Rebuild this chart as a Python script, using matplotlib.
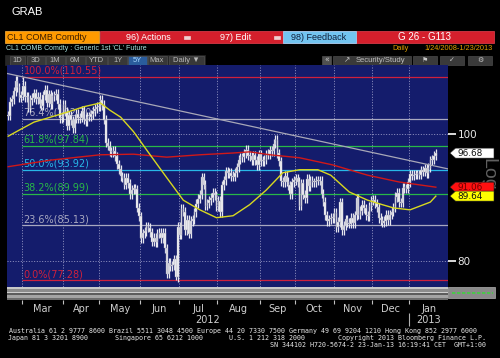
import numpy as np
import pandas as pd
import matplotlib
matplotlib.use("Agg")
import matplotlib.pyplot as plt
from matplotlib.patches import Rectangle, Polygon
from matplotlib.ticker import FixedLocator, NullLocator, FixedFormatter

# sessions with no trading (US holidays + hurricane Sandy)
holidays = ["2012-02-20", "2012-04-06", "2012-05-28", "2012-07-04", "2012-09-03",
            "2012-10-29", "2012-10-30", "2012-11-22", "2012-12-25", "2013-01-01",
            "2013-01-21"]

# daily closes, CL1 COMB Comdty
closes_feb = [103.24, 105.84, 106.28, 107.83, 109.77, 108.56, 106.55, 107.07]
closes_mar = [108.84, 106.70, 106.72, 104.70, 106.16, 106.58, 107.40, 106.34, 106.71, 105.43,
              105.11, 107.06, 108.09, 105.61, 107.27, 105.35, 106.87, 107.03, 107.33, 105.41,
              102.78, 103.02]
closes_apr = [105.23, 104.01, 101.47, 103.31, 102.46, 101.02, 102.70, 103.64, 102.83, 102.93,
              104.20, 102.67, 102.27, 103.05, 103.11, 103.55, 104.12, 104.55, 104.93, 104.87]
closes_may = [106.16, 105.22, 102.54, 98.49, 97.94, 97.01, 96.81, 97.08, 96.13, 94.78,
              93.98, 92.81, 92.56, 91.48, 92.57, 91.66, 89.90, 90.66, 90.86, 90.76,
              87.82, 86.53]
closes_jun = [83.23, 83.98, 84.29, 85.02, 84.82, 84.10, 82.70, 83.32, 82.62, 83.91,
              84.03, 83.27, 84.03, 81.80, 78.20, 79.76, 79.21, 79.36, 80.21, 77.69, 84.96]
closes_jul = [83.75, 87.66, 87.22, 84.45, 85.99, 83.91, 85.81, 86.08, 87.10, 88.43,
              89.22, 89.87, 92.66, 91.44, 88.14, 88.50, 88.97, 89.39, 90.13, 89.78, 88.06]
closes_aug = [88.91, 87.13, 91.40, 92.20, 93.67, 93.35, 93.36, 92.87, 92.73, 93.43,
              94.33, 95.60, 96.01, 95.97, 96.68, 97.26, 96.27, 96.15, 95.47, 96.33,
              95.49, 94.62, 96.47]
closes_sep = [95.30, 95.36, 95.53, 96.42, 96.54, 97.17, 97.01, 98.31, 99.00, 96.62,
              95.29, 91.98, 91.87, 92.89, 91.93, 91.37, 89.98, 91.85, 92.19]
closes_oct = [92.48, 91.89, 88.14, 91.71, 89.88, 89.33, 92.39, 91.25, 92.07, 91.86,
              91.85, 92.09, 92.12, 92.10, 90.05, 88.73, 86.67, 85.73, 86.05, 86.28, 86.24]
closes_nov = [87.09, 84.86, 85.65, 88.71, 84.44, 85.09, 86.07, 85.57, 85.38, 86.32,
              85.45, 86.67, 89.28, 86.75, 87.38, 88.28, 87.74, 86.68, 86.49, 88.07, 88.91]
closes_dec = [89.09, 88.49, 87.88, 86.26, 85.93, 85.56, 85.80, 86.77, 85.89, 86.73,
              87.20, 87.93, 89.51, 90.13, 88.66, 88.61, 90.98, 90.87, 90.80, 91.82]
closes_jan = [93.12, 92.92, 93.09, 93.19, 93.15, 93.10, 93.82, 93.56, 94.14, 93.28,
              94.24, 95.49, 95.56, 96.24, 96.68]

# intraday extremes used by the fibonacci tool
swing_high = ("2012-03-01", 110.55)
swing_low = ("2012-06-28", 77.28)
second_high = ("2012-09-14", 100.42)
fib_ratios = [1.0, 0.764, 0.618, 0.5, 0.382, 0.236, 0.0]

# moving averages
ma_short_dates = ["2012-02-17", "2012-02-27", "2012-03-09", "2012-03-22", "2012-04-04",
                  "2012-04-18", "2012-05-01", "2012-05-08", "2012-05-16", "2012-05-25",
                  "2012-06-08", "2012-06-21", "2012-07-05", "2012-07-18", "2012-07-31",
                  "2012-08-13", "2012-08-24", "2012-09-07", "2012-09-20", "2012-10-03",
                  "2012-10-17", "2012-10-26", "2012-11-13", "2012-11-28", "2012-12-10",
                  "2012-12-18", "2013-01-02", "2013-01-17", "2013-01-23"]
ma_short = [99.6, 100.5, 102.1, 103.0, 103.9, 104.9, 105.6, 104.3, 103.0, 100.4,
            96.4, 92.6, 89.0, 87.5, 86.3, 86.6, 88.3, 90.6, 93.4, 93.9,
            93.9, 93.0, 90.3, 89.0, 88.3, 87.8, 87.5, 88.7, 89.64]
ma_long_dates = ["2012-02-17", "2012-03-22", "2012-05-01", "2012-05-25", "2012-06-21",
                 "2012-07-18", "2012-08-13", "2012-08-24", "2012-09-11", "2012-10-03",
                 "2012-10-31", "2012-11-28", "2012-12-21", "2013-01-23"]
ma_long = [94.4, 95.5, 96.4, 96.5, 96.0, 96.4, 96.7, 96.9, 96.4, 95.9,
           94.7, 93.0, 91.9, 91.06]

month_names = ["Mar", "Apr", "May", "Jun", "Jul", "Aug", "Sep", "Oct", "Nov", "Dec", "Jan"]
right_ticks = [80, 100]

# ---- dates -> trading day index
closes = np.array(closes_feb + closes_mar + closes_apr + closes_may + closes_jun + closes_jul
                  + closes_aug + closes_sep + closes_oct + closes_nov + closes_dec + closes_jan)
days = pd.bdate_range("2012-02-17", "2013-01-23")
days = days[~days.isin(pd.to_datetime(holidays))]
pos = {d.strftime("%Y-%m-%d"): i for i, d in enumerate(days)}
x = np.arange(len(days))

BG = "#000000"
PLOT_BG = "#141c6c"

fig = plt.figure(figsize=(5, 3.58), dpi=100, facecolor=BG)
ov = fig.add_axes([0, 0, 1, 1])
ov.set_xlim(0, 500)
ov.set_ylim(358, 0)
ov.axis("off")

ax = fig.add_axes([7 / 500, 58 / 358, 441 / 500, 235 / 358])
ax.set_facecolor(PLOT_BG)
ax.set_yscale("log")
ax.set_ylim(74.67, 112.89)
ax.set_xlim(-0.64, 238.6)
for s in ax.spines.values():
    s.set_visible(False)

# month boundaries
month_first = [i for i in range(1, len(days)) if days[i].month != days[i - 1].month]
bounds = [i - 0.5 for i in month_first]
mids = [(bounds[k] + bounds[k + 1]) / 2 for k in range(len(bounds) - 1)]
mids.append((bounds[-1] + ax.get_xlim()[1]) / 2)

ax.xaxis.set_major_locator(FixedLocator(bounds))
ax.xaxis.set_major_formatter(FixedFormatter([""] * len(bounds)))
ax.xaxis.set_minor_locator(FixedLocator(mids))
ax.xaxis.set_minor_formatter(FixedFormatter(month_names))
ax.tick_params(axis="x", which="major", length=3, width=0.8, color="#c0c0c0", direction="out")
ax.tick_params(axis="x", which="minor", length=0, labelsize=7, labelcolor="#d0d0d0", pad=3)

ax.yaxis.set_ticks_position("right")
ax.yaxis.set_major_locator(FixedLocator(right_ticks))
ax.yaxis.set_major_formatter(FixedFormatter([str(t) for t in right_ticks]))
ax.yaxis.set_minor_locator(NullLocator())
ax.tick_params(axis="y", which="major", length=6, width=1.2, color="white", direction="out",
               labelsize=7.5, labelcolor="#e8e8e8", pad=1)

ax.grid(True, which="major", axis="both", color="#a8a8d0", ls=(0, (1.2, 2)), lw=0.6)
ax.set_axisbelow(True)

# fibonacci retracement
hi_v, lo_v = swing_high[1], swing_low[1]
fib_colors = ["#d0203c", "#a8a8c0", "#28b848", "#28b8e8", "#28b848", "#a8a8c0", "#d0203c"]
for r, c in zip(fib_ratios, fib_colors):
    lvl = lo_v + r * (hi_v - lo_v)
    ax.hlines(lvl, pos[swing_high[0]] - 0.5, ax.get_xlim()[1], color=c, lw=0.9, zorder=2)
    ax.annotate("%.1f%%(%.2f)" % (r * 100, lvl + 1e-6), (pos[swing_high[0]] + 0.3, lvl),
                xytext=(0, 1), textcoords="offset points", color=c, fontsize=7,
                va="bottom", ha="left", zorder=2)

# price bars
opens = np.r_[closes[0], closes[:-1]]
wick = 0.008
body_lo = np.minimum(opens, closes)
body_hi = np.maximum(opens, closes)
lows = body_lo * (1 - wick)
highs = body_hi * (1 + wick)
highs[pos[swing_high[0]]] = swing_high[1]
lows[pos[swing_low[0]]] = swing_low[1]
ax.vlines(x, lows, highs, color="#e8e8f0", lw=0.9, zorder=2.5)
ax.bar(x, np.maximum(body_hi - body_lo, 0.15), bottom=body_lo, width=0.8,
       color="white", edgecolor="#9090a8", lw=0.3, zorder=2.6)

# trend line through the two highs
ax.axline((pos[swing_high[0]], swing_high[1]), (pos[second_high[0]], second_high[1]),
          color="#a8a8b8", lw=0.9, zorder=3)

ax.plot([pos[d] for d in ma_long_dates], ma_long, color="#d01818", lw=1.0, zorder=3)
ax.plot([pos[d] for d in ma_short_dates], ma_short, color="#d8d820", lw=1.0, zorder=3)

# bottom scroll band inside the plot area
def band(a, b, c):
    ax.add_patch(Rectangle((0, (300 - b) / 235), 1, (b - a) / 235, transform=ax.transAxes,
                           fc=c, ec="none", zorder=5, clip_on=False))

band(286.5, 289, "#c8c8c8")
band(289, 291.5, "#8c8c8c")
band(291.5, 293, "#cfcfcf")
band(293, 295, "#5c5c5c")
band(295, 298, "#a4a4a4")
band(298, 300, "#6c6c6c")

# ---- overlay decorations (pixel coords)
def box(x0, y0, x1, y1, fc, ec=None, lw=0.5, z=1):
    ov.add_patch(Rectangle((x0, y0), x1 - x0, y1 - y0, fc=fc, ec=ec or fc, lw=lw, zorder=z))

def txt(x0, y0, s, **kw):
    kw.setdefault("va", "center")
    kw.setdefault("zorder", 2)
    ov.text(x0, y0, s, **kw)

HF = "Liberation Sans"
txt(12, 12, "GRAB", color="white", fontsize=8, family=HF)

box(5, 31, 99, 43, "#ff9a00", "#ffb440")
txt(7, 37.5, "CL1 COMB Comdty", color="#3a1c00", fontsize=6.5, family=HF)
box(100, 31, 494, 43, "#d41f2c", "#e84050")
txt(148, 37.5, "96) Actions", color="white", fontsize=6.5, family=HF, ha="center")
box(184, 36, 190, 39, "#f0d0d0")
txt(236, 37.5, "97) Edit", color="white", fontsize=6.5, family=HF, ha="center")
box(274, 36, 280, 39, "#f0d0d0")
box(283, 31, 356, 43, "#72c4f0", "#a0dcff")
txt(319, 37.5, "98) Feedback", color="#10203c", fontsize=6.5, family=HF, ha="center")
txt(425, 37.5, "G 26 - G113", color="white", fontsize=7, family=HF, ha="center")

txt(6, 49, "CL1 COMB Comdty : Generic 1st 'CL' Future", color="#a8e4e0", fontsize=5, family=HF)
txt(392, 49, "Daily", color="#e0a000", fontsize=5.3, family=HF)
txt(493, 49, "1/24/2008-1/23/2013", color="#e0a000", fontsize=5.3, family=HF, ha="right")

box(5, 55, 205, 65, "#262626")
buttons = [("1D", 17, 10, 25), ("3D", 36, 27, 45), ("1M", 55, 46, 65), ("6M", 75, 66, 85),
           ("YTD", 96, 86, 107), ("1Y", 118, 108, 127), ("5Y", 137, 128, 147),
           ("Max", 157, 148, 167), ("Daily \u25bc", 186, 169, 204)]
for lab, cx, bx0, bx1 in buttons:
    sel = lab == "5Y"
    box(bx0, 55.5, bx1, 64.5, "#2a5c9c" if sel else "#383838", "#505050")
    txt(cx, 60, lab, color="#a8d8ff" if sel else "#b8b8b8", fontsize=5.5, family=HF,
        ha="center")

box(322, 55.5, 331, 64.5, "#505050")
txt(326.5, 60, "\u00ab", color="#c8c8c8", fontsize=5.5, ha="center")
box(333, 55.5, 411, 64.5, "#3a3a3a", "#4a4a4a")
txt(347, 60, "\u2197", color="#c0c0c0", fontsize=5.5, ha="center")
txt(380, 60, "Security/Study", color="#c0c0c0", fontsize=5.5, family=HF, ha="center")
for cx, glyph in [(425, "\u2691"), (452, "\u2713"), (480, "\u2699")]:
    box(cx - 12, 55.5, cx + 12, 64.5, "#3a3a3a", "#4a4a4a")
    txt(cx, 60, glyph, color="#c8c8c8", fontsize=5, ha="center")

# right-hand scroll box
box(448, 287, 495, 298, "#8a8a8a", "#b0b0b0")
ov.hlines(293, 452, 493, color="#40d040", lw=1.2, linestyles=(0, (2, 1)))

# "Log" watermark
ov.text(488, 174, "Log", rotation=-90, color="#606060", fontsize=14, family=HF,
        ha="center", va="center", zorder=1)

# last value flags, placed with the plot's own y scale
def flag(value, fc, tc):
    yc = 358 - ax.transData.transform((0, value))[1]
    ov.add_patch(Polygon([(450, yc), (455.5, yc - 5), (494, yc - 5), (494, yc + 5),
                          (455.5, yc + 5)], closed=True, fc=fc, ec="#202020", lw=0.4, zorder=3))
    ov.text(457, yc + 0.3, "%.2f" % value, color=tc, fontsize=6.4, va="center", zorder=4)

flag(closes[-1], "white", "#101010")
flag(ma_long[-1], "#ff1010", "#700000")
flag(ma_short[-1], "#ffff00", "#101010")

# year labels
def xpix(i):
    return ax.transData.transform((i, 100))[0]

xl = ax.get_xlim()
jan = bounds[-1]
txt((xpix(xl[0]) + xpix(jan)) / 2, 320, "2012", color="#d0d0d0", fontsize=7, ha="center")
txt((xpix(jan) + xpix(xl[1])) / 2, 320, "2013", color="#d0d0d0", fontsize=7, ha="center")
ov.vlines(xpix(jan), 313, 326, color="#b0b0b0", lw=0.8)

# footer
MF = "DejaVu Sans Mono"
fc_ = "#e8e8e8"
fs = 4.75
txt(9, 331, "Australia 61 2 9777 8600 Brazil 5511 3048 4500 Europe 44 20 7330 7500 "
    "Germany 49 69 9204 1210 Hong Kong 852 2977 6000", color=fc_, fontsize=fs, family=MF)
txt(8, 338, "Japan 81 3 3201 8900", color=fc_, fontsize=fs, family=MF)
txt(115, 338, "Singapore 65 6212 1000", color=fc_, fontsize=fs, family=MF)
txt(229, 338, "U.S. 1 212 318 2000", color=fc_, fontsize=fs, family=MF)
txt(486, 338, "Copyright 2013 Bloomberg Finance L.P.", color=fc_, fontsize=fs, family=MF,
    ha="right")
txt(486, 345, "SN 344102 H720-5674-2 23-Jan-13 16:19:41 CET  GMT+1:00", color=fc_,
    fontsize=fs, family=MF, ha="right")

fig.savefig("out.png", dpi=100, facecolor=BG)
